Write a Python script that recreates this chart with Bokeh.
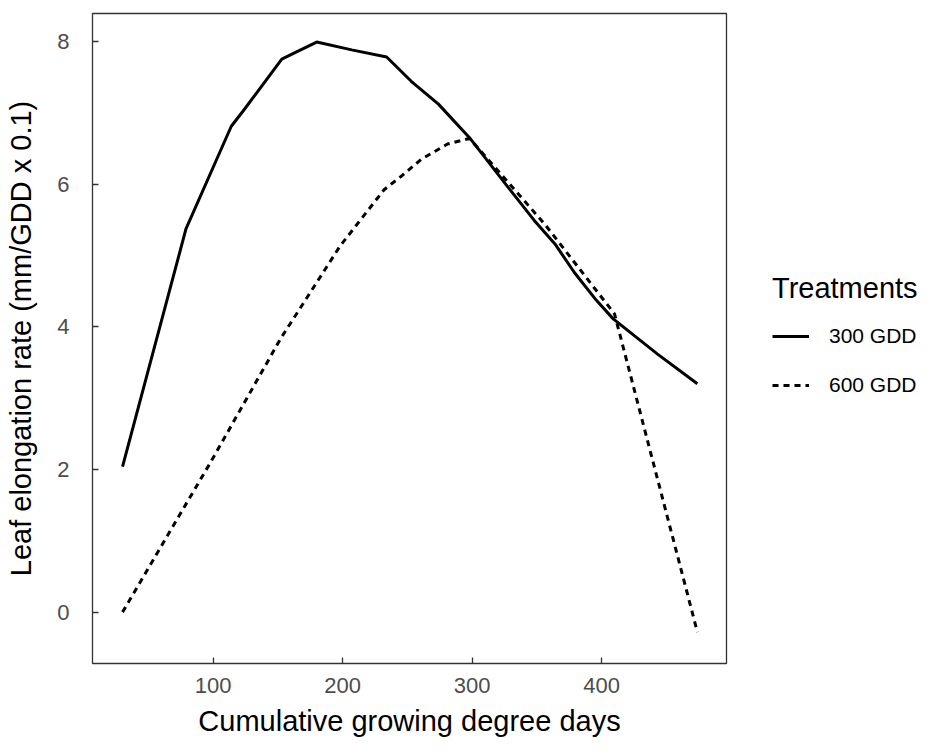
from bokeh.plotting import figure
from bokeh.models import Range1d, FixedTicker, Legend, LegendItem
from bokeh.layouts import row
from bokeh.embed import file_html
from bokeh.resources import INLINE

# Data
gdd_300 = [30, 79, 114, 123, 153, 162, 180, 207, 234, 253, 274, 298, 328, 348, 364, 379, 396, 409, 443, 474]
rate_300 = [2.04, 5.37, 6.81, 7.02, 7.75, 7.83, 7.99, 7.88, 7.78, 7.44, 7.12, 6.65, 5.95, 5.49, 5.16, 4.76, 4.37, 4.11, 3.62, 3.20]

gdd_600 = [30, 98, 152, 198, 232, 246, 261, 281, 298, 356, 410, 474]
rate_600 = [0.00, 2.10, 3.83, 5.13, 5.92, 6.12, 6.35, 6.56, 6.64, 5.44, 4.18, -0.28]

x_ticks = [100, 200, 300, 400]
y_ticks = [0, 2, 4, 6, 8]
series_labels = ["300 GDD", "600 GDD"]
legend_title = "Treatments"

FONT = "Liberation Sans"
DASH = "6 5"

p = figure(width=732, height=744, output_backend="svg", toolbar_location=None,
           x_range=Range1d(6.8, 496.5), y_range=Range1d(-0.72, 8.39),
           min_border_left=92, min_border_right=6, min_border_top=13, min_border_bottom=81)

p.background_fill_color = "white"
p.border_fill_color = "white"
p.outline_line_color = "#333333"
p.outline_line_width = 1.3
p.grid.visible = False

for ax in (p.xaxis[0], p.yaxis[0]):
    ax.axis_line_color = None
    ax.major_tick_line_color = "#333333"
    ax.major_tick_line_width = 1.3
    ax.major_tick_in = 6
    ax.major_tick_out = 0
    ax.minor_tick_line_color = None
    ax.major_label_text_font = FONT
    ax.major_label_text_font_size = "22px"
    ax.major_label_text_color = "#4d4d4d"
    ax.axis_label_text_font = FONT
    ax.axis_label_text_font_size = "29px"
    ax.axis_label_text_font_style = "normal"
    ax.axis_label_text_color = "black"

p.xaxis.ticker = FixedTicker(ticks=x_ticks)
p.yaxis.ticker = FixedTicker(ticks=y_ticks)
p.xaxis.axis_label = "Cumulative growing degree days"
p.yaxis.axis_label = "Leaf elongation rate (mm/GDD x 0.1)"
p.xaxis.major_label_standoff = 14
p.yaxis.major_label_standoff = 23
p.xaxis.axis_label_standoff = 9
p.yaxis.axis_label_standoff = 17

p.line(gdd_300, rate_300, line_color="black", line_width=3)
p.line(gdd_600, rate_600, line_color="black", line_width=3, line_dash=DASH)

# Legend panel (separate figure to the right; its key lines lie outside its visible range)
q = figure(width=189, height=744, output_backend="svg", toolbar_location=None,
           x_range=Range1d(0, 1), y_range=Range1d(0, 1),
           x_axis_location=None, y_axis_location=None,
           min_border_left=0, min_border_right=0, min_border_top=13, min_border_bottom=81)
q.outline_line_color = None
q.grid.visible = False
q.background_fill_color = "white"
q.border_fill_color = "white"
k1 = q.line([5, 6], [5, 6], line_color="black", line_width=3)
k2 = q.line([5, 6], [5, 6], line_color="black", line_width=3, line_dash=DASH)

legend = Legend(items=[LegendItem(label=series_labels[0], renderers=[k1]),
                       LegendItem(label=series_labels[1], renderers=[k2])],
                location=(40, 266))
legend.title = legend_title
legend.title_text_font = FONT
legend.title_text_font_size = "29px"
legend.title_text_font_style = "normal"
legend.title_text_color = "black"
legend.title_standoff = 19
legend.label_text_font = FONT
legend.label_text_font_size = "21px"
legend.label_text_color = "black"
legend.label_standoff = 20
legend.glyph_width = 37
legend.glyph_height = 20
legend.spacing = 25
legend.padding = 0
legend.margin = 0
legend.border_line_color = None
legend.background_fill_alpha = 0
q.add_layout(legend, "center")

layout = row(p, q)
open("out.html", "w").write(file_html(layout, INLINE))
